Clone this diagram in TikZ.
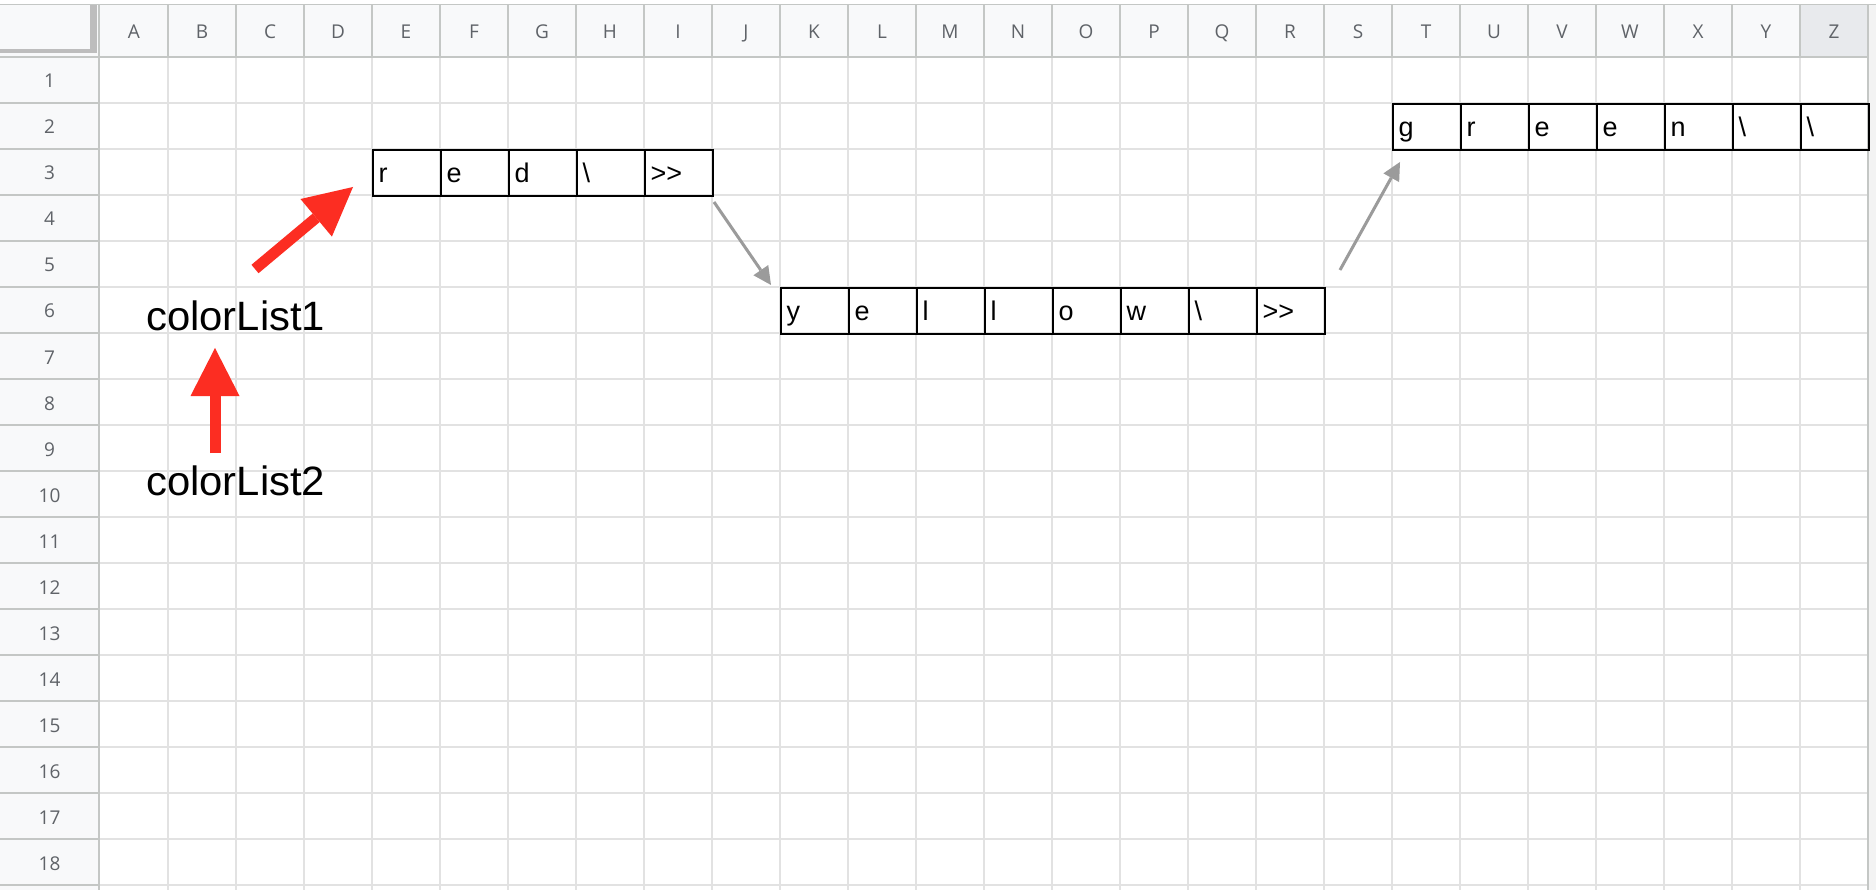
\documentclass[tikz,border=0pt]{standalone}
\usepackage{fontspec}
\setmainfont{Liberation Sans}
\newfontfamily\hdrfont{Open Sans}
\newfontfamily\bigfont{Liberation Sans}[FakeStretch=1.02]
\usetikzlibrary{arrows.meta}
\definecolor{gridc}{HTML}{E2E2E2}
\definecolor{hdrbg}{HTML}{F8F9FA}
\definecolor{hdrsel}{HTML}{E8EAED}
\definecolor{hdrline}{HTML}{C4C7C5}
\definecolor{frzc}{HTML}{BDBDBD}
\definecolor{hdrtxt}{HTML}{5F6368}
\definecolor{stripc}{HTML}{F3F3F3}
\definecolor{arrred}{HTML}{FC2D22}
\definecolor{arrgray}{HTML}{9B9B9B}
\begin{document}
\begin{tikzpicture}[x=1pt,y=-1pt,
  cellbox/.style={draw=black, line width=2pt, minimum width=68pt, minimum height=46pt, inner sep=0pt, anchor=north west},
  celltext/.style={font=\fontsize{27}{27}\selectfont, anchor=base west, inner sep=0pt},
  hdrtext/.style={font=\hdrfont\fontsize{19}{19}\selectfont, text=hdrtxt, anchor=base, inner sep=0pt},
  biglabel/.style={font=\bigfont\fontsize{41}{41}\selectfont, anchor=base west, inner sep=0pt},
  redarrow/.style={draw=arrred, line width=11pt, -{Triangle[width=49pt,length=48pt,line width=0pt]}},
  grayarrow/.style={draw=arrgray, line width=3pt, -{Triangle[width=18pt,length=18pt,line width=0pt]}},
  gridline/.style={draw=gridc, line width=1.5pt},
  hdrsep/.style={draw=hdrline, line width=1.5pt}
]
\useasboundingbox (0,0) rectangle (1876,890);
% backgrounds
\fill[white] (0,0) rectangle (1876,890);
\fill[hdrbg] (0,5) rectangle (1868,57);
\fill[hdrsel] (1800,5) rectangle (1868,57);
\fill[hdrbg] (0,57) rectangle (100,890);
\fill[stripc] (1868,5) rectangle (1876,890);
% body grid
\foreach \k in {1,...,26} \draw[gridline] ({100+68*\k},57) -- ({100+68*\k},890);
\foreach \r in {1,...,18} \draw[gridline] (100,{57+46*\r}) -- (1868,{57+46*\r});
% header separators
\foreach \k in {1,...,26} \draw[hdrsep] ({100+68*\k},5) -- ({100+68*\k},57);
\foreach \r in {1,...,18} \draw[hdrsep] (0,{57+46*\r}) -- (100,{57+46*\r});
\draw[hdrline, line width=2pt] (0,57) -- (1868,57);
\draw[hdrline, line width=2pt] (99,5) -- (99,890);
\draw[hdrsep] (0,4.5) -- (1876,4.5);
\draw[hdrsep] (1868,5) -- (1868,890);
% frozen corner bars
\fill[frzc] (0,49) rectangle (90,53.5);
\fill[frzc] (90,5) rectangle (97,53.5);
% header labels
\foreach \L [count=\k from 0] in {A,B,C,D,E,F,G,H,I,J,K,L,M,N,O,P,Q,R,S,T,U,V,W,X,Y,Z}
  \node[hdrtext] (col\L) at ({134+68*\k},39) {\L};
\foreach \r in {1,...,18}
  \node[hdrtext] (row\r) at (49.5,{57+46*\r-15}) {\r};
% red list
\foreach \t [count=\i from 0] in {r,e,d,\textbackslash,>\kern0pt>}{
  \node[cellbox] (red\i) at ({372+68*\i},149) {};
  \node[celltext] (redt\i) at ([shift={(6.5,34)}]red\i.north west) {\t};
}
% yellow list
\foreach \t [count=\i from 0] in {y,e,l,l,o,w,\textbackslash,>\kern0pt>}{
  \node[cellbox] (yel\i) at ({780+68*\i},287) {};
  \node[celltext] (yelt\i) at ([shift={(6.5,34)}]yel\i.north west) {\t};
}
% green list
\foreach \t [count=\i from 0] in {g,r,e,e,n,\textbackslash,\textbackslash}{
  \node[cellbox] (grn\i) at ({1392+68*\i},103) {};
  \node[celltext] (grnt\i) at ([shift={(6.5,34)}]grn\i.north west) {\t};
}
% labels
\node[biglabel] (cl1) at (146,331) {colorList1};
\node[biglabel] (cl2) at (146,495) {colorList2};
% arrows
\coordinate (a1s) at (255,269);
\coordinate (a1e) at (353,187);
\coordinate (a2s) at (215,453);
\coordinate (a2e) at (215,348);
\coordinate (g1s) at (714,202);
\coordinate (g1e) at (771,285);
\coordinate (g2s) at (1340,270);
\coordinate (g2e) at (1400,162);
\draw[redarrow] (a1s) -- (a1e);
\draw[redarrow] (a2s) -- (a2e);
\draw[grayarrow] (g1s) -- (g1e);
\draw[grayarrow] (g2s) -- (g2e);
\end{tikzpicture}
\end{document}
